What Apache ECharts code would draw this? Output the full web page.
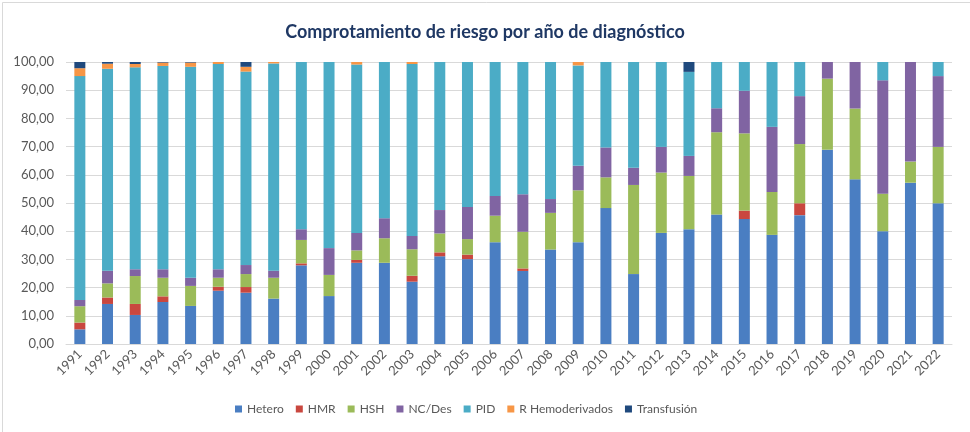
<!DOCTYPE html>
<html>
<head>
<meta charset="utf-8">
<script src="https://cdn.jsdelivr.net/npm/echarts@6/dist/echarts.min.js"></script>
<style>
  html, body { margin: 0; padding: 0; background: #fff; }
  #chart { width: 970px; height: 432px; }
</style>
</head>
<body>
<div id="chart"></div>
<script>
  // años de diagnóstico
  var years = ['1991','1992','1993','1994','1995','1996','1997','1998','1999','2000',
    '2001','2002','2003','2004','2005','2006','2007','2008','2009','2010',
    '2011','2012','2013','2014','2015','2016','2017','2018','2019','2020','2021','2022']

  var hetero = [5.2,14.2,10.3,14.9,13.5,18.9,18.2,16.1,27.9,17.0,
    28.8,28.8,22.1,31.1,30.1,36.1,25.9,33.5,36.1,48.2,
    24.8,39.4,40.7,45.9,44.3,38.7,45.7,68.9,58.4,40.0,57.2,49.9]
  var hmr = [2.4,2.3,3.9,2.0,0,1.4,2.0,0,0.7,0,
    1.0,0,2.1,1.4,1.6,0,0.9,0,0,0,
    0,0,0,0,3.0,0,4.2,0,0,0,0,0]
  var hsh = [5.8,5.0,9.9,6.6,7.1,3.2,4.6,7.4,8.3,7.5,
    3.4,8.7,9.4,6.7,5.5,9.4,13.0,13.0,18.4,10.9,
    31.6,21.4,18.9,29.2,27.4,15.2,21.0,25.2,25.1,13.3,7.5,20.0]
  var ncDes = [2.2,4.5,2.4,3.0,2.9,3.0,3.2,2.5,3.8,9.5,
    6.2,7.1,4.7,8.3,11.4,7.0,13.3,4.9,8.7,10.6,
    6.1,9.1,7.1,8.5,15.1,23.1,17.0,5.9,16.5,40.2,35.3,25.1]
  var pid = [79.4,71.6,71.6,72.1,74.8,72.8,68.6,73.5,59.3,66.0,
    59.7,55.4,61.0,52.5,51.4,47.5,46.9,48.6,35.6,30.3,
    37.5,30.1,29.8,16.4,10.2,23.0,12.1,0,0,6.5,0,5.0]
  var rHemo = [2.8,1.8,1.2,1.2,1.5,0.7,1.7,0.5,0,0,
    0.9,0,0.7,0,0,0,0,0,1.2,0,
    0,0,0,0,0,0,0,0,0,0,0,0]
  var transfusion = [2.2,0.6,0.7,0.2,0.2,0,1.7,0,0,0,
    0,0,0,0,0,0,0,0,0,0,
    0,0,3.5,0,0,0,0,0,0,0,0,0]

  var seriesNames = ['Hetero','HMR','HSH','NC/Des','PID','R Hemoderivados','Transfusión']
  var seriesData = [hetero, hmr, hsh, ncDes, pid, rHemo, transfusion]
  var colors = ['#4A7EC2','#C9473F','#9BBB59','#8064A2','#4BACC6','#F79646','#1F497D']

  var chart = echarts.init(document.getElementById('chart'))

  var series = []
  seriesNames.forEach(function (name, i) {
    series.push({
      name: name,
      type: 'bar',
      stack: 'total',
      barWidth: 11,
      data: seriesData[i],
      itemStyle: { color: colors[i] }
    })
  })

  chart.setOption({
    backgroundColor: '#fff',
    animation: false,
    color: colors,
    title: {
      text: 'Comprotamiento de riesgo por año de diagnóstico',
      left: 'center',
      top: 18,
      textStyle: {
        fontFamily: 'Lato',
        fontSize: 18,
        fontWeight: 'bold',
        color: '#1F3864'
      }
    },
    graphic: [{
      type: 'rect',
      shape: { x: 2.5, y: 2.5, width: 1000, height: 1000 },
      style: { fill: 'none', stroke: '#d9d9d9', lineWidth: 1 },
      silent: true
    }],
    grid: {
      left: 66,
      right: 18,
      top: 62,
      bottom: 88
    },
    legend: {
      bottom: 12,
      left: 230,
      itemWidth: 7,
      itemHeight: 7,
      itemGap: 12,
      icon: 'rect',
      textStyle: { fontFamily: 'Lato', fontSize: 12, color: '#595959' },
      data: seriesNames
    },
    xAxis: {
      type: 'category',
      data: years,
      axisTick: { show: false },
      axisLine: { lineStyle: { color: '#d9d9d9' } },
      axisLabel: {
        rotate: 45,
        interval: 0,
        fontFamily: 'Lato',
        fontSize: 13,
        color: '#595959',
        margin: 8
      }
    },
    yAxis: {
      type: 'value',
      min: 0,
      max: 100,
      interval: 10,
      axisLine: { show: false },
      axisTick: { show: false },
      splitLine: { lineStyle: { color: '#d9d9d9' } },
      axisLabel: {
        fontFamily: 'Lato',
        fontSize: 13,
        color: '#595959',
        margin: 12,
        formatter: function (v) {
          return v.toFixed(2).replace('.', ',')
        }
      }
    },
    series: series
  })
</script>
</body>
</html>
